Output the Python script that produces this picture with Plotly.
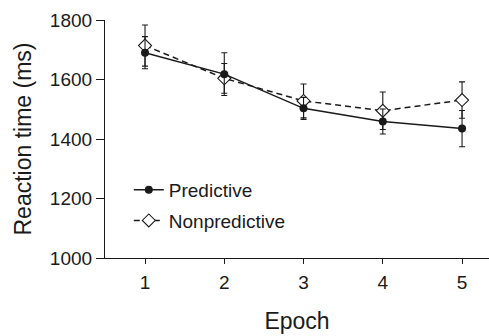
import plotly.graph_objects as go

epochs = [1, 2, 3, 4, 5]
tick_labels = ["1", "2", "3", "4", "5"]
predictive = [1690, 1618, 1503, 1459, 1435]
predictive_err = [54, 72, 37, 42, 61]
nonpredictive = [1714, 1604, 1528, 1495, 1531]
nonpredictive_err = [69, 50, 57, 63, 61]
y_ticks = [1000, 1200, 1400, 1600, 1800]

FONT = "Liberation Sans, Arial, Helvetica, sans-serif"
INK = "#1a1a1a"

fig = go.Figure()
fig.add_trace(go.Scatter(
    x=epochs, y=nonpredictive, name="Nonpredictive", mode="lines+markers",
    line=dict(color=INK, width=1.5, dash="6px,4px"),
    marker=dict(symbol="diamond", size=10, color="white", line=dict(color=INK, width=1.1)),
    error_y=dict(type="data", array=nonpredictive_err, visible=True, color=INK, thickness=1.1, width=3),
    legendgroup="b", legendrank=2,
))
fig.add_trace(go.Scatter(
    x=epochs, y=predictive, name="Predictive", mode="lines+markers",
    line=dict(color=INK, width=1.5),
    marker=dict(symbol="circle", size=8, color=INK),
    error_y=dict(type="data", array=predictive_err, visible=True, color=INK, thickness=1.1, width=3),
    legendgroup="a", legendrank=1,
))

fig.update_layout(
    width=489, height=336,
    margin=dict(l=105, r=0, t=20, b=78),
    paper_bgcolor="white", plot_bgcolor="white",
    font=dict(family=FONT, color=INK, size=19),
    showlegend=True,
    legend=dict(
        x=0.062, y=0.366, xanchor="left", yanchor="top",
        bgcolor="rgba(0,0,0,0)", font=dict(size=19, family=FONT, color=INK),
        traceorder="grouped", tracegroupgap=3,
    ),
    xaxis=dict(
        range=[0.495, 5.34], tickmode="array", tickvals=epochs, ticktext=tick_labels,
        showline=True, linecolor=INK, linewidth=1.2, ticks="outside", ticklen=5,
        tickcolor=INK, tickwidth=1.2, showgrid=False, zeroline=False,
        tickfont=dict(size=19), ticklabelstandoff=2,
        title=dict(text="Epoch", font=dict(size=23), standoff=20),
    ),
    yaxis=dict(
        range=[1000, 1800], tickmode="array", tickvals=y_ticks,
        showline=True, linecolor=INK, linewidth=1.2, ticks="outside", ticklen=8,
        tickcolor=INK, tickwidth=1.2, showgrid=False, zeroline=False,
        tickfont=dict(size=19),
        title=dict(text="Reaction time (ms)", font=dict(size=23), standoff=11),
    ),
)

fig.write_html("out.html", config={"displayModeBar": False},
               post_script="document.body.style.margin='0';")
